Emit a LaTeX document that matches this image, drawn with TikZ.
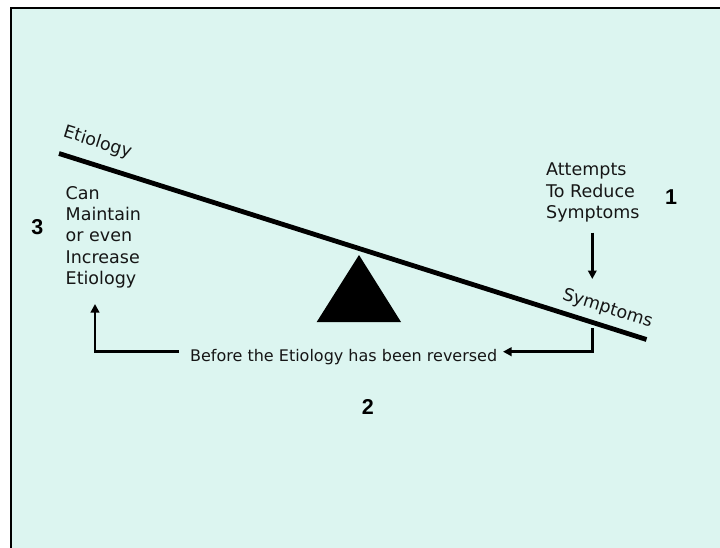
\documentclass[tikz,border=0pt]{standalone}
\usepackage{fontspec}
\setmainfont{DejaVu Sans}
\newfontfamily\numfont{Liberation Sans}
\usetikzlibrary{arrows.meta}
\definecolor{mint}{RGB}{220,245,240}
\definecolor{ink}{RGB}{22,22,22}
\begin{document}
\begin{tikzpicture}[x=1pt,y=-1pt,
  txt/.style={inner sep=0pt, text=ink, font=\fontsize{17.5}{21.3}\selectfont},
  smalltxt/.style={inner sep=0pt, text=ink, font=\fontsize{16}{19}\selectfont},
  bignum/.style={inner sep=0pt, text=black, font=\numfont\bfseries\fontsize{21.5}{24}\selectfont},
  flow/.style={line width=2.7pt, -{Triangle[length=8.5pt,width=8.5pt]}},
  beam/.style={line width=4.8pt},
]
\useasboundingbox (0,0) rectangle (720,548);
% page and panel
\fill[white] (0,0) rectangle (720,548);
\fill[mint] (11,8.5) rectangle (730,560);
\draw[line width=2pt] (11,560) -- (11,8.5) -- (730,8.5);

% the seesaw: beam and fulcrum
\coordinate (beamL) at (59,153.5);
\coordinate (beamR) at (646.5,339.5);
\draw[beam] (beamL) -- (beamR);
\fill[black] (359,255) -- (316.7,322) -- (401,322) -- cycle;

% labels on the beam
\node[txt, rotate=-17.6] (etio) at (97.5,142.7) {Etiology};
\node[txt, rotate=-17.6] (symp) at (607.5,309) {Symptoms};

% side texts
\node[txt, align=left, anchor=north west] (attempts) at (546,162.9)
  {Attempts\\To Reduce\\Symptoms};
\node[txt, align=left, anchor=north west] (canmaint) at (65.5,186.2)
  {Can\\Maintain\\or even\\Increase\\Etiology};
\node[smalltxt, anchor=base] (rev) at (343.7,361) {Before the Etiology has been reversed};

% step numbers
\node[bignum] (n1) at (671,197) {1};
\node[bignum] (n2) at (367.8,407.2) {2};
\node[bignum] (n3) at (37.4,226.7) {3};

% connectors
\coordinate (downTop) at (592.3,232.7);
\coordinate (downTip) at (592.3,279);
\coordinate (brTop) at (592.3,328);
\coordinate (brCorner) at (592.3,351.7);
\coordinate (revTip) at (503,351.7);
\coordinate (lfStart) at (179,351.7);
\coordinate (lfCorner) at (95,351.7);
\coordinate (lfTip) at (95,304);
\draw[flow] (downTop) -- (downTip);
\draw[flow] (brTop) -- (brCorner) -- (revTip);
\draw[flow] (lfStart) -- (lfCorner) -- (lfTip);
\end{tikzpicture}
\end{document}
